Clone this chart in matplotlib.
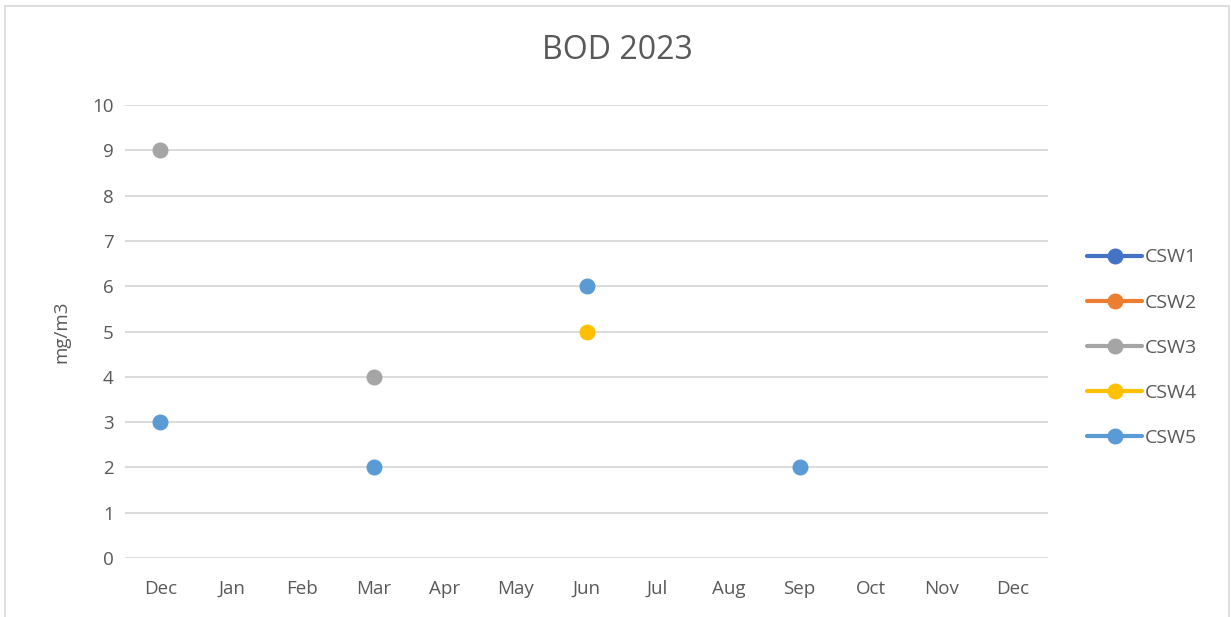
import numpy as np
import matplotlib
matplotlib.use('Agg')
import matplotlib.pyplot as plt
from matplotlib.patches import Rectangle

# --- DATA
months = ['Dec', 'Jan', 'Feb', 'Mar', 'Apr', 'May', 'Jun', 'Jul', 'Aug', 'Sep', 'Oct', 'Nov', 'Dec']
nan = np.nan
csw1 = [nan] * 13
csw2 = [nan] * 13
csw3 = [9, nan, nan, 4, nan, nan, nan, nan, nan, nan, nan, nan, nan]
csw4 = [nan, nan, nan, nan, nan, nan, 5, nan, nan, nan, nan, nan, nan]
csw5 = [3, nan, nan, 2, nan, nan, 6, nan, nan, 2, nan, nan, nan]

series = ['CSW1', 'CSW2', 'CSW3', 'CSW4', 'CSW5']
values = [csw1, csw2, csw3, csw4, csw5]
colors = ['#4472c4', '#ed7d31', '#a5a5a5', '#ffc000', '#5b9bd5']

plt.rcParams['font.family'] = ['Open Sans', 'DejaVu Sans']
text_col = '#595959'

fig = plt.figure(figsize=(12.31, 6.17), dpi=100)
ax = fig.add_axes([0.1015, 0.0956, 0.75, 0.7342])

x = np.arange(len(months))
for name, vals, c in zip(series, values, colors):
    ax.plot(x, vals, color=c, lw=3, marker='o', markersize=10.5, label=name,
            solid_capstyle='round')

ax.set_xlim(-0.5, len(months) - 0.5)
ax.set_ylim(0, 10)
ax.set_yticks(range(0, 11))
ax.set_xticks(x)
ax.set_xticklabels(months)
ax.yaxis.grid(True, color='#d9d9d9', lw=1.3)
ax.set_axisbelow(True)
for s in ax.spines.values():
    s.set_visible(False)
ax.tick_params(length=0, labelsize=13.5, labelcolor=text_col)
ax.tick_params(axis='y', pad=8)
ax.tick_params(axis='x', pad=16)
ax.set_ylabel('mg/m3', fontsize=13.5, color=text_col, labelpad=16)

fig.text(0.5015, 0.918, 'BOD 2023', ha='center', va='center', fontsize=23, color=text_col)

leg = ax.legend(loc='center left', bbox_to_anchor=(1.034, 0.464), frameon=False,
                fontsize=14, labelspacing=1.4, handlelength=2.8, handletextpad=0.15,
                borderaxespad=0)
for t in leg.get_texts():
    t.set_color(text_col)

# chart border
fig.patches.append(Rectangle((0.004, -0.01), 0.994, 1.0, transform=fig.transFigure,
                             fill=False, edgecolor='#d9d9d9', lw=1.2))

fig.savefig('out.png', dpi=100)
